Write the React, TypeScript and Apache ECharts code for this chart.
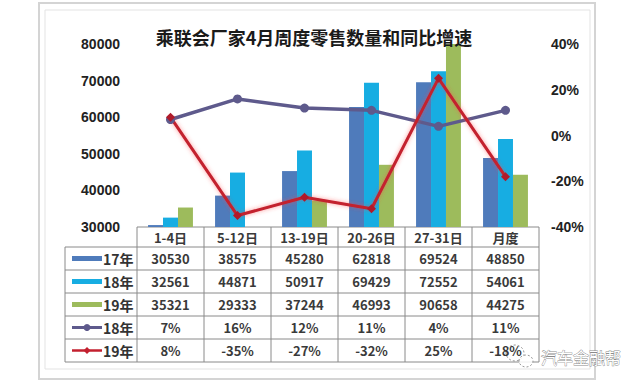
import React, { useEffect, useRef } from "react";
import * as echarts from "echarts";

const title = "乘联会厂家4月周度零售数量和同比增速";
const categories = ["1-4日", "5-12日", "13-19日", "20-26日", "27-31日", "月度"];
const sales17 = [30530, 38575, 45280, 62818, 69524, 48850];
const sales18 = [32561, 44871, 50917, 69429, 72552, 54061];
const sales19 = [35321, 29333, 37244, 46993, 90658, 44275];
const growth18 = [7, 16, 12, 11, 4, 11];
const growth19 = [8, -35, -27, -32, 25, -18];
const barNames = ["17年", "18年", "19年"];
const lineNames = ["18年", "19年"];
const leftAxis = { min: 30000, max: 80000, interval: 10000 };
const rightAxis = { min: -40, max: 40, interval: 20 };
const watermark = "汽车金融帮";

const COLORS = {
  b17: "#4f7bbb",
  b18: "#17ade2",
  b19: "#9dbb5c",
  l18: "#5e5a8c",
  l19: "#c3202f",
};

const GL = 137;
const GW = 402;
const GT = 44;
const GH = 183;
const GB = GT + GH; // 227
const TL = 65;
const rowEdges = [227, 247, 270, 293, 316, 339, 362];
const FONT = "'Noto Sans CJK SC', 'Liberation Sans', sans-serif";

export default function App() {
  const ref = useRef<HTMLDivElement>(null);
  useEffect(() => {
    document.body.style.margin = "0";
    const chart = echarts.init(ref.current!, null, { renderer: "svg" });
    const rows = [
      sales17.map(String),
      sales18.map(String),
      sales19.map(String),
      growth18.map((v) => v + "%"),
      growth19.map((v) => v + "%"),
    ];
    const rowCenters = rowEdges.slice(1, 6).map((y, i) => (y + rowEdges[i + 2]) / 2);
    const rowAxes = rows.map((r, i) => ({
      type: "category",
      gridIndex: 0,
      position: "bottom",
      offset: rowCenters[i] - GB,
      data: r,
      axisLine: { show: false },
      axisTick: { show: false },
      axisLabel: {
        margin: 0,
        verticalAlign: "middle",
        fontSize: 13,
        fontWeight: "bold",
        color: "#3a3a3a",
        fontFamily: FONT,
        interval: 0,
      },
    }));

    const cw = GW / categories.length;
    const graphics: any[] = [];
    graphics.push({
      type: "rect",
      shape: { x: 39, y: 3, width: 556, height: 376 },
      style: { fill: "none", stroke: "#d4d4d4", lineWidth: 2 },
      silent: true,
    });
    graphics.push({
      type: "rect",
      shape: { x: 45, y: 10, width: 545, height: 359 },
      style: { fill: "none", stroke: "#e3e3e3", lineWidth: 1 },
      silent: true,
    });
    rowEdges.forEach((y, i) => {
      graphics.push({
        type: "line",
        shape: { x1: i === 0 ? GL : TL, y1: y, x2: GL + GW, y2: y },
        style: { stroke: "#8a8a8a", lineWidth: 1 },
        silent: true,
      });
    });
    graphics.push({
      type: "line",
      shape: { x1: TL, y1: rowEdges[1], x2: TL, y2: rowEdges[6] },
      style: { stroke: "#8a8a8a", lineWidth: 1 },
      silent: true,
    });
    for (let k = 0; k <= categories.length; k++) {
      const x = GL + k * cw;
      graphics.push({
        type: "line",
        shape: { x1: x, y1: rowEdges[0], x2: x, y2: rowEdges[6] },
        style: { stroke: "#8a8a8a", lineWidth: 1 },
        silent: true,
      });
    }
    const labelNames = [...barNames, ...lineNames];
    const swatchColors = [COLORS.b17, COLORS.b18, COLORS.b19, COLORS.l18, COLORS.l19];
    labelNames.forEach((name, i) => {
      const cy = rowCenters[i];
      if (i < 3) {
        graphics.push({
          type: "rect",
          shape: { x: 72, y: cy - 2.5, width: 30, height: 5 },
          style: { fill: swatchColors[i] },
          silent: true,
        });
      } else {
        graphics.push({
          type: "line",
          shape: { x1: 72, y1: cy, x2: 102, y2: cy },
          style: { stroke: swatchColors[i], lineWidth: i === 3 ? 3 : 2.5 },
          silent: true,
        });
        if (i === 3) {
          graphics.push({
            type: "circle",
            shape: { cx: 87, cy, r: 3.5 },
            style: { fill: swatchColors[i] },
            silent: true,
          });
        } else {
          graphics.push({
            type: "polygon",
            shape: { points: [[87, cy - 3.5], [90.5, cy], [87, cy + 3.5], [83.5, cy]] },
            style: { fill: swatchColors[i] },
            silent: true,
          });
        }
      }
      graphics.push({
        type: "text",
        x: 103,
        y: cy,
        style: {
          text: name,
          fontSize: 14,
          fontWeight: "bold",
          fontFamily: FONT,
          fill: "#333",
          verticalAlign: "middle",
          align: "left",
        },
        silent: true,
      });
    });
    graphics.push({
      type: "ellipse",
      shape: { cx: 515, cy: 353, rx: 9, ry: 8 },
      style: { fill: "rgba(255,255,255,0.85)", stroke: "#999", lineWidth: 1, lineDash: [2, 2] },
      silent: true,
    });
    graphics.push({
      type: "ellipse",
      shape: { cx: 526, cy: 361, rx: 7, ry: 6 },
      style: { fill: "rgba(255,255,255,0.85)", stroke: "#999", lineWidth: 1, lineDash: [2, 2] },
      silent: true,
    });
    graphics.push({
      type: "text",
      x: 541,
      y: 357,
      style: {
        text: watermark,
        fontSize: 16,
        fontFamily: FONT,
        fill: "#ffffff",
        stroke: "#8a8a8a",
        lineWidth: 0.8,
        verticalAlign: "middle",
        align: "left",
      },
      silent: true,
    });

    const axisLabelStyle = {
      fontSize: 14,
      fontWeight: "bold",
      color: "#222",
      fontFamily: "'Liberation Sans', Arial, sans-serif",
    };

    chart.setOption({
      animation: false,
      backgroundColor: "#ffffff",
      title: {
        text: title,
        left: 309,
        top: 23,
        textAlign: "center",
        textStyle: { fontSize: 18, fontWeight: "bold", color: "#1a1a1a", fontFamily: FONT },
      },
      grid: { left: GL, width: GW, top: GT, height: GH, containLabel: false },
      xAxis: [
        {
          type: "category",
          data: categories,
          axisLine: { show: false },
          axisTick: { show: false },
          axisLabel: {
            margin: 10,
            verticalAlign: "middle",
            fontSize: 13,
            fontWeight: "bold",
            color: "#3a3a3a",
            fontFamily: FONT,
            interval: 0,
          },
        },
        ...rowAxes,
      ],
      yAxis: [
        {
          type: "value",
          min: leftAxis.min,
          max: leftAxis.max,
          interval: leftAxis.interval,
          splitLine: { show: false },
          axisLine: { show: false },
          axisTick: { show: false },
          axisLabel: { ...axisLabelStyle, margin: 17, formatter: (v: number) => String(v) },
        },
        {
          type: "value",
          min: rightAxis.min,
          max: rightAxis.max,
          interval: rightAxis.interval,
          position: "right",
          splitLine: { show: false },
          axisLine: { show: false },
          axisTick: { show: false },
          axisLabel: { ...axisLabelStyle, margin: 12, formatter: (v: number) => v + "%" },
        },
      ],
      series: [
        {
          name: barNames[0],
          type: "bar",
          data: sales17,
          barGap: "0%",
          barCategoryGap: "33%",
          clip: true,
          itemStyle: { color: COLORS.b17 },
        },
        {
          name: barNames[1],
          type: "bar",
          data: sales18,
          barGap: "0%",
          barCategoryGap: "33%",
          clip: true,
          itemStyle: { color: COLORS.b18 },
        },
        {
          name: barNames[2],
          type: "bar",
          data: sales19,
          barGap: "0%",
          barCategoryGap: "33%",
          clip: true,
          itemStyle: { color: COLORS.b19 },
        },
        {
          name: lineNames[0],
          type: "line",
          yAxisIndex: 1,
          data: growth18,
          symbol: "circle",
          symbolSize: 9,
          lineStyle: { color: COLORS.l18, width: 3.5 },
          itemStyle: { color: COLORS.l18 },
        },
        {
          name: lineNames[1],
          type: "line",
          yAxisIndex: 1,
          data: growth19,
          symbol: "diamond",
          symbolSize: 9,
          lineStyle: {
            color: COLORS.l19,
            width: 3,
            shadowColor: "rgba(255,60,60,0.55)",
            shadowBlur: 4,
          },
          itemStyle: { color: "#b01a2a" },
        },
      ],
      graphic: graphics,
    });
    return () => chart.dispose();
  }, []);
  return <div ref={ref} style={{ width: 640, height: 384 }} />;
}
